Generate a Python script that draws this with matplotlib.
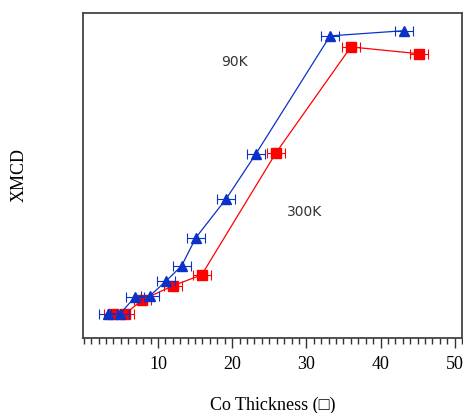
import numpy as np
import matplotlib.pyplot as plt
from matplotlib.ticker import MultipleLocator

# 90K (blue triangles)
x_90 = [3.3, 4.9, 6.9, 8.9, 11.1, 13.2, 15.1, 19.2, 23.2, 33.2, 43.2]
y_90 = [0.074, 0.074, 0.126, 0.129, 0.175, 0.222, 0.308, 0.428, 0.566, 0.929, 0.945]
# 300K (red squares)
x_300 = [3.9, 5.6, 7.9, 12.0, 15.9, 25.9, 36.0, 45.2]
y_300 = [0.074, 0.074, 0.117, 0.160, 0.194, 0.569, 0.895, 0.874]
xerr = 1.2

fig = plt.figure(figsize=(4.64, 4.13), dpi=100)
ax = fig.add_axes([0.179, 0.182, 0.817, 0.787])

ax.errorbar(x_90, y_90, xerr=xerr, color='#0a32c8', marker='^', ms=6.5,
            lw=0.9, elinewidth=0.8, capsize=3.5, capthick=0.8, zorder=3)
ax.errorbar(x_300, y_300, xerr=xerr, color='#ff0000', marker='s', ms=6.5,
            lw=0.9, elinewidth=0.8, capsize=3.5, capthick=0.8, zorder=2)

ax.text(20.3, 0.849, '90K', ha='center', va='center', fontsize=10, color='#333333')
ax.text(29.7, 0.388, '300K', ha='center', va='center', fontsize=10, color='#333333')

ax.set_xlim(-0.1, 51)
ax.set_ylim(0, 1)
ax.xaxis.set_minor_locator(MultipleLocator(1))
ax.set_xticks([10, 20, 30, 40, 50])
ax.set_yticks([])
ax.tick_params(axis='x', which='major', length=7, width=1, direction='out', color='#333333', pad=6)
ax.tick_params(axis='x', which='minor', length=4, width=1, direction='out', color='#333333')
for lab in ax.get_xticklabels():
    lab.set_fontfamily('Liberation Serif')
    lab.set_fontsize(13)
for s in ax.spines.values():
    s.set_linewidth(1.3)
    s.set_color('#444444')

ax.set_xlabel('Co Thickness (\u25a1)', family=['Liberation Serif', 'DejaVu Sans'],
              fontsize=13, labelpad=17)
ax.set_ylabel('XMCD', family='Liberation Serif', fontsize=13, labelpad=40)

plt.savefig('out.png', dpi=100)
